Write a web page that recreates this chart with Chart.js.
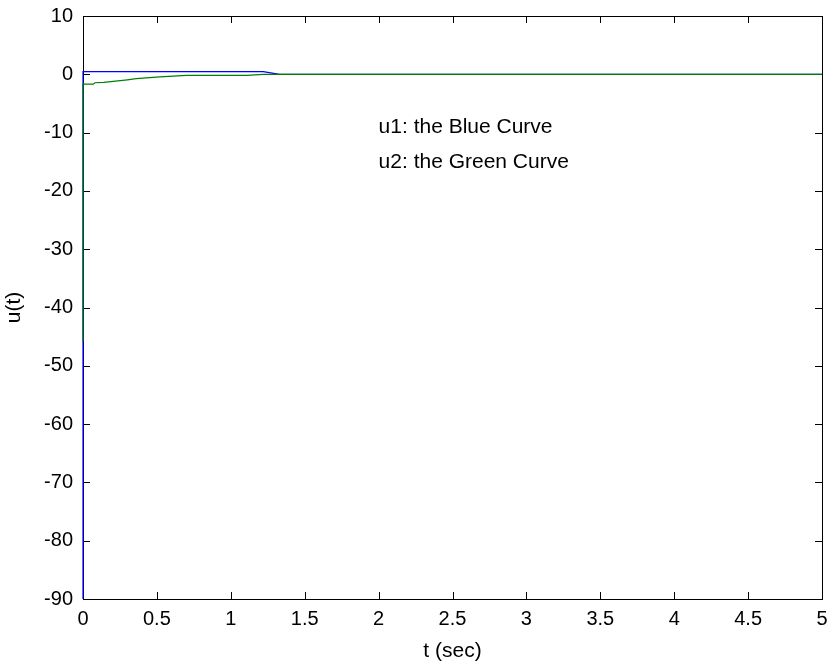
<!DOCTYPE html>
<html>
<head>
<meta charset="utf-8">
<script src="https://cdn.jsdelivr.net/npm/chart.js@4/dist/chart.umd.min.js"></script>
<style>
    html, body { margin: 0; padding: 0; background: #fff; }
    #plot { display: block; }
</style>
</head>
<body>
<canvas id="plot" width="835" height="664"></canvas>
<script>
// values
const blueTime = [0, 0, 1.22, 1.33, 5];
const blueU = [-90, 0.45, 0.45, 0, 0];

const greenTime = [0, 0, 0.07, 0.08, 0.14, 0.3, 0.36, 0.52, 0.7, 1.11, 1.22, 5];
const greenU = [-45.8, -1.7, -1.7, -1.45, -1.4, -0.95, -0.75, -0.45, -0.2, -0.2, 0, 0];

const xTicks = [0, 0.5, 1, 1.5, 2, 2.5, 3, 3.5, 4, 4.5, 5];
const yTicks = [-90, -80, -70, -60, -50, -40, -30, -20, -10, 0, 10];

const notes = [
    { t: 2, u: -9.1, text: 'u1: the Blue Curve' },
    { t: 2, u: -15.1, text: 'u2: the Green Curve' }
];

const fontFamily = '"Liberation Sans", Arial, sans-serif';

function toPoints(xs, ys) {
    return xs.map((x, i) => ({ x: x, y: ys[i] }));
}

// MATLAB style box with inward ticks on all four sides, drawn under the curves
const boxPlugin = {
    id: 'matlabBox',
    beforeDatasetsDraw(chart) {
        const ctx = chart.ctx;
        const area = chart.chartArea;
        const xScale = chart.scales.x;
        const yScale = chart.scales.y;
        const tickLen = 7;

        ctx.save();
        ctx.strokeStyle = '#000';
        ctx.lineWidth = 1;
        ctx.beginPath();
        for (let t of xTicks) {
            const px = Math.round(xScale.getPixelForValue(t)) + 0.5;
            ctx.moveTo(px, area.bottom);
            ctx.lineTo(px, area.bottom - tickLen);
            ctx.moveTo(px, area.top);
            ctx.lineTo(px, area.top + tickLen);
        }
        for (let v of yTicks) {
            const py = Math.round(yScale.getPixelForValue(v)) + 0.5;
            ctx.moveTo(area.left, py);
            ctx.lineTo(area.left + tickLen, py);
            ctx.moveTo(area.right, py);
            ctx.lineTo(area.right - tickLen, py);
        }
        ctx.stroke();

        ctx.strokeRect(Math.round(area.left) + 0.5, Math.round(area.top) + 0.5,
            Math.round(area.right - area.left), Math.round(area.bottom - area.top));
        ctx.restore();
    },
    afterDraw(chart) {
        const ctx = chart.ctx;
        const xScale = chart.scales.x;
        const yScale = chart.scales.y;

        ctx.save();
        ctx.fillStyle = '#000';
        ctx.font = '21px ' + fontFamily;
        ctx.textAlign = 'left';
        ctx.textBaseline = 'middle';
        for (let note of notes) {
            ctx.fillText(note.text, xScale.getPixelForValue(note.t), yScale.getPixelForValue(note.u));
        }
        ctx.restore();
    }
};

Chart.defaults.color = '#000';
Chart.defaults.font.family = fontFamily;

new Chart(document.getElementById('plot'), {
    type: 'scatter',
    data: {
        datasets: [
            {
                label: 'u2',
                data: toPoints(greenTime, greenU),
                borderColor: '#008000',
                borderWidth: 1.2,
                showLine: true,
                pointRadius: 0,
                clip: 3,
                order: 0
            },
            {
                label: 'u1',
                data: toPoints(blueTime, blueU),
                borderColor: '#0000ff',
                borderWidth: 1.2,
                showLine: true,
                pointRadius: 0,
                clip: 3,
                order: 1
            }
        ]
    },
    options: {
        responsive: false,
        animation: false,
        events: [],
        layout: { padding: { top: 16, right: 13, left: 0, bottom: 0 } },
        plugins: {
            legend: { display: false },
            tooltip: { enabled: false }
        },
        scales: {
            x: {
                type: 'linear',
                min: 0,
                max: 5,
                afterBuildTicks: (scale) => { scale.ticks = xTicks.map(v => ({ value: v })); },
                afterFit: (scale) => {
                    scale.height = 65;
                    scale.paddingLeft = 0;
                    scale.paddingRight = 0;
                },
                grid: { display: false, drawTicks: false },
                border: { display: false },
                ticks: {
                    font: { size: 20 },
                    padding: 8,
                    maxRotation: 0,
                    autoSkip: false,
                    callback: (value) => String(value)
                },
                title: { display: true, text: 't (sec)', font: { size: 21 }, padding: { top: 0, bottom: 0 } }
            },
            y: {
                type: 'linear',
                min: -90,
                max: 10,
                afterBuildTicks: (scale) => { scale.ticks = yTicks.map(v => ({ value: v })); },
                afterFit: (scale) => {
                    scale.width = 83;
                    scale.paddingTop = 0;
                    scale.paddingBottom = 0;
                },
                grid: { display: false, drawTicks: false },
                border: { display: false },
                ticks: { font: { size: 20 }, padding: 10, autoSkip: false, callback: (value) => String(value) },
                title: { display: true, text: 'u(t)', font: { size: 21 }, padding: { top: 2, bottom: 0 } }
            }
        }
    },
    plugins: [boxPlugin]
});
</script>
</body>
</html>
